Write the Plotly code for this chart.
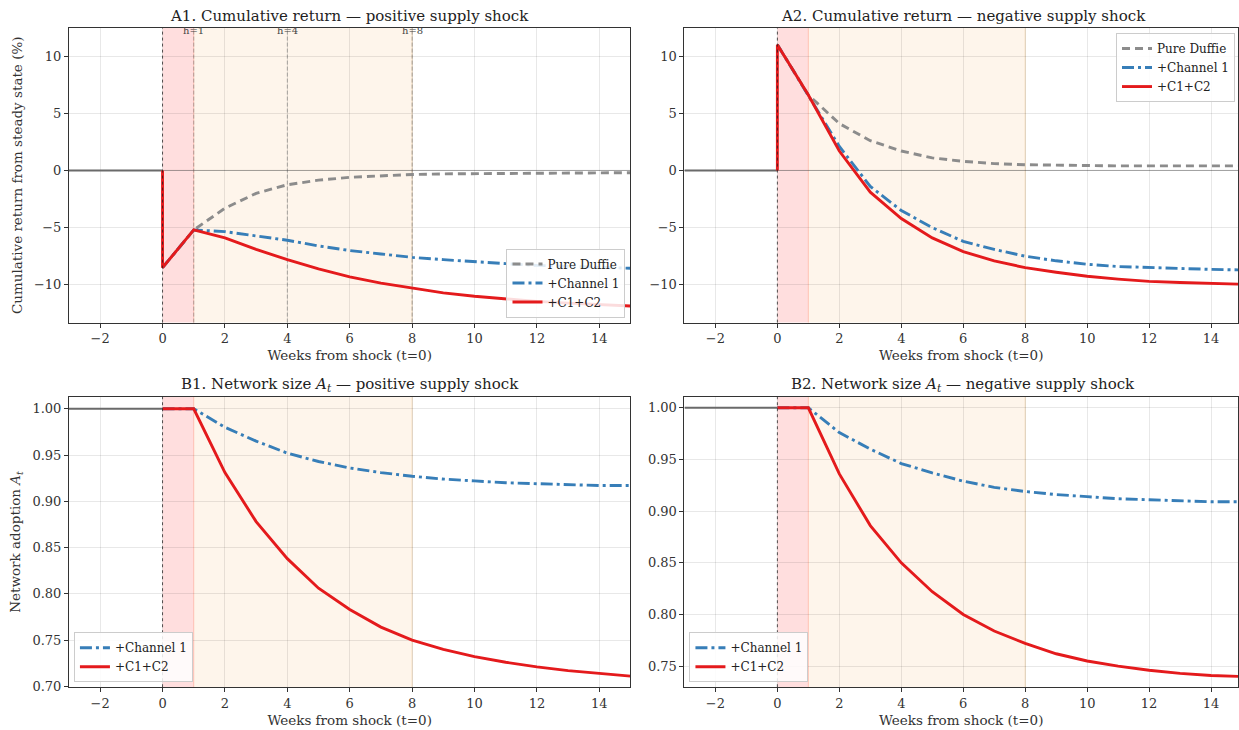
import plotly.graph_objects as go

# ---------------- data ----------------
weeks = list(range(0, 16))
pre_weeks = [-3, 0]

A1_duffie = [-8.5, -5.2, -3.3, -2.0, -1.25, -0.85, -0.6, -0.45, -0.35, -0.3, -0.27, -0.25, -0.23, -0.22, -0.21, -0.2]
A1_ch1 = [-8.5, -5.2, -5.35, -5.7, -6.1, -6.6, -7.0, -7.3, -7.6, -7.8, -8.0, -8.15, -8.3, -8.4, -8.5, -8.55]
A1_c1c2 = [-8.5, -5.2, -5.9, -6.9, -7.8, -8.6, -9.3, -9.85, -10.3, -10.7, -11.0, -11.25, -11.45, -11.6, -11.75, -11.85]

A2_duffie = [11.0, 6.6, 4.1, 2.6, 1.7, 1.1, 0.8, 0.6, 0.5, 0.45, 0.42, 0.4, 0.4, 0.4, 0.4, 0.4]
A2_ch1 = [11.0, 6.6, 2.1, -1.4, -3.5, -5.0, -6.2, -6.9, -7.5, -7.9, -8.2, -8.4, -8.5, -8.6, -8.65, -8.7]
A2_c1c2 = [11.0, 6.6, 1.7, -1.9, -4.2, -5.9, -7.1, -7.9, -8.5, -8.9, -9.25, -9.5, -9.7, -9.8, -9.9, -9.95]

B1_ch1 = [1.0, 1.0, 0.980, 0.965, 0.952, 0.943, 0.936, 0.931, 0.927, 0.924, 0.922, 0.920, 0.919, 0.918, 0.917, 0.917]
B1_c1c2 = [1.0, 1.0, 0.931, 0.878, 0.838, 0.806, 0.783, 0.764, 0.750, 0.740, 0.732, 0.726, 0.721, 0.717, 0.714, 0.711]
B2_ch1 = [1.0, 1.0, 0.976, 0.960, 0.946, 0.937, 0.929, 0.923, 0.919, 0.916, 0.914, 0.912, 0.911, 0.910, 0.909, 0.909]
B2_c1c2 = [1.0, 1.0, 0.936, 0.886, 0.850, 0.822, 0.800, 0.784, 0.772, 0.762, 0.755, 0.750, 0.746, 0.743, 0.741, 0.740]

ret_steady = 0.0
net_steady = 1.0
horizons = [1, 4, 8]
horizon_labels = ["h=1", "h=4", "h=8"]

titles = ["A1. Cumulative return — positive supply shock",
          "A2. Cumulative return — negative supply shock",
          "B1. Network size <i>A</i><sub><i>t</i></sub> — positive supply shock",
          "B2. Network size <i>A</i><sub><i>t</i></sub> — negative supply shock"]
xlabel = "Weeks from shock (t=0)"
ylabel_A = "Cumulative return from steady state (%)"
ylabel_B = "Network adoption <i>A</i><sub><i>t</i></sub>"

# ---------------- style ----------------
FONT = "DejaVu Serif"
RED = "#e41a1c"
BLUE = "#377eb8"
GRAY = "#8c8c8c"
W, H = 1239, 730
KY = 1.0115  # vertical correction

def px_x(p):
    return p / W

def px_y(p):
    return 1 - (p * KY) / H

dom = {
    1: ([px_x(69), px_x(631)], [px_y(322), px_y(28)]),
    2: ([px_x(685), 1.0], [px_y(322), px_y(28)]),
    3: ([px_x(69), px_x(631)], [px_y(686), px_y(396)]),
    4: ([px_x(685), 1.0], [px_y(686), px_y(396)]),
}
title_x = {1: px_x(350), 2: px_x(964), 3: px_x(350), 4: px_x(964)}
xr = {1: [-3, 15], 2: [-3, 14.87], 3: [-3, 15], 4: [-3, 14.87]}
yr = {1: [-13.3, 12.45], 2: [-13.3, 12.45], 3: [0.699, 1.013], 4: [0.7296, 1.0107]}
ytick = {1: [-10, -5, 0, 5, 10], 2: [-10, -5, 0, 5, 10],
         3: [0.70, 0.75, 0.80, 0.85, 0.90, 0.95, 1.00],
         4: [0.75, 0.80, 0.85, 0.90, 0.95, 1.00]}

fig = go.Figure()

def ax(i):
    return ("x" if i == 1 else f"x{i}"), ("y" if i == 1 else f"y{i}")

def leg(i):
    return "legend" if i == 1 else f"legend{i}"

def add_series(i, x, y, name, color, dash, show=True, width=2.9):
    xa, ya = ax(i)
    fig.add_trace(go.Scatter(x=x, y=y, mode="lines", name=name,
                             line=dict(color=color, width=width, dash=dash),
                             xaxis=xa, yaxis=ya, legend=leg(i), showlegend=show))

DASH_G = "8px,5px"
DASH_B = "12px,4px,3px,4px"

panels = {
    1: dict(duffie=A1_duffie, ch1=A1_ch1, c12=A1_c1c2, steady=ret_steady),
    2: dict(duffie=A2_duffie, ch1=A2_ch1, c12=A2_c1c2, steady=ret_steady),
    3: dict(duffie=None, ch1=B1_ch1, c12=B1_c1c2, steady=net_steady),
    4: dict(duffie=None, ch1=B2_ch1, c12=B2_c1c2, steady=net_steady),
}

shapes = []
annotations = []

for i, p in panels.items():
    xa, ya = ax(i)
    shapes.append(dict(type="rect", xref=xa, yref=f"{ya} domain", x0=0, x1=1, y0=0, y1=1,
                       fillcolor="rgba(255,0,0,0.13)", line=dict(width=0), layer="below"))
    shapes.append(dict(type="rect", xref=xa, yref=f"{ya} domain", x0=1, x1=8, y0=0, y1=1,
                       fillcolor="rgba(245,160,60,0.1)", line=dict(width=0), layer="below"))
    shapes.append(dict(type="line", xref=xa, yref=f"{ya} domain", x0=1, x1=1, y0=0, y1=1,
                       line=dict(color="rgba(255,120,90,0.35)", width=1), layer="below"))
    shapes.append(dict(type="line", xref=xa, yref=f"{ya} domain", x0=8, x1=8, y0=0, y1=1,
                       line=dict(color="rgba(230,170,90,0.35)", width=1), layer="below"))
    if i in (1, 2):
        shapes.append(dict(type="line", xref=f"{xa} domain", yref=ya, x0=0, x1=1,
                           y0=p["steady"], y1=p["steady"],
                           line=dict(color="rgba(80,80,80,0.5)", width=0.9), layer="below"))
    if i == 1:
        for h, lab in zip(horizons, horizon_labels):
            shapes.append(dict(type="line", xref=xa, yref=f"{ya} domain", x0=h, x1=h, y0=0, y1=1,
                               line=dict(color="rgba(110,110,110,0.6)", width=0.9, dash="4px,2px"),
                               layer="below"))
            annotations.append(dict(x=h, y=1, xref=xa, yref=f"{ya} domain", text=lab,
                                    showarrow=False, xanchor="center", yanchor="middle", yshift=-2,
                                    font=dict(family=FONT, size=10, color="#444444")))
    shapes.append(dict(type="line", xref=xa, yref=f"{ya} domain", x0=0, x1=0, y0=0, y1=1,
                       line=dict(color="rgba(30,30,30,0.75)", width=1, dash="dot"), layer="above"))

    add_series(i, pre_weeks, [p["steady"]] * len(pre_weeks), "pre", "#6a6a6a", "solid",
               show=False, width=2.0)
    if p["duffie"] is not None:
        add_series(i, weeks, p["duffie"], "Pure Duffie", GRAY, DASH_G)
    add_series(i, weeks, p["ch1"], "+Channel 1", BLUE, DASH_B)
    add_series(i, [0] + weeks, [p["steady"]] + p["c12"], "+C1+C2", RED, "solid")

    xd, yd = dom[i]
    annotations.append(dict(x=title_x[i], y=yd[1], xref="paper", yref="paper", text=titles[i - 1],
                            showarrow=False, xanchor="center", yanchor="bottom", yshift=1,
                            font=dict(family=FONT, size=15, color="#222222")))

axis_common = dict(showline=True, linecolor="#333333", linewidth=1, mirror=True,
                   ticks="outside", ticklen=4, tickcolor="#333333",
                   showgrid=True, gridcolor="rgba(0,0,0,0.09)", gridwidth=1,
                   zeroline=False, tickfont=dict(family=FONT, size=13, color="#333333"))

TFONT = dict(family=FONT, size=13.5, color="#333333")

layout = dict(width=W, height=H, autosize=False,
              margin=dict(l=0, r=0, t=0, b=0),
              paper_bgcolor="white", plot_bgcolor="white",
              font=dict(family=FONT, size=12, color="#333333"),
              shapes=shapes, annotations=annotations)

for i in panels:
    xd, yd = dom[i]
    xn = "xaxis" if i == 1 else f"xaxis{i}"
    yn = "yaxis" if i == 1 else f"yaxis{i}"
    xa, ya = ax(i)
    layout[xn] = dict(domain=xd, range=xr[i], anchor=ya, tickvals=list(range(-2, 15, 2)),
                      title=dict(text=xlabel, font=TFONT, standoff=5),
                      **axis_common)
    yt = dict(domain=yd, range=yr[i], anchor=xa, tickvals=ytick[i], **axis_common)
    if i in (3, 4):
        yt["tickformat"] = ".2f"
    if i == 1:
        yt["title"] = dict(text=ylabel_A, font=TFONT, standoff=8)
    if i == 3:
        yt["title"] = dict(text=ylabel_B, font=TFONT, standoff=8)
    layout[yn] = yt

legend_common = dict(bgcolor="rgba(255,255,255,0.85)", bordercolor="#cccccc", borderwidth=1,
                     font=dict(family=FONT, size=12, color="#222222"),
                     tracegroupgap=0, itemwidth=30)
layout["legend"] = dict(x=px_x(626), y=px_y(317), xanchor="right", yanchor="bottom", **legend_common)
layout["legend2"] = dict(x=px_x(1236), y=px_y(33), xanchor="right", yanchor="top", **legend_common)
layout["legend3"] = dict(x=px_x(74), y=px_y(681), xanchor="left", yanchor="bottom", **legend_common)
layout["legend4"] = dict(x=px_x(690), y=px_y(681), xanchor="left", yanchor="bottom", **legend_common)

fig.update_layout(**layout)

page_css = ("document.documentElement.style.overflow='hidden';"
            "document.body.style.margin='0';document.body.style.overflow='hidden';"
            "var g=document.getElementsByClassName('plotly-graph-div')[0];"
            "g.style.position='fixed';g.style.top='0px';g.style.left='0px';")
fig.write_html("out.html", config={"displayModeBar": False}, post_script=page_css)
